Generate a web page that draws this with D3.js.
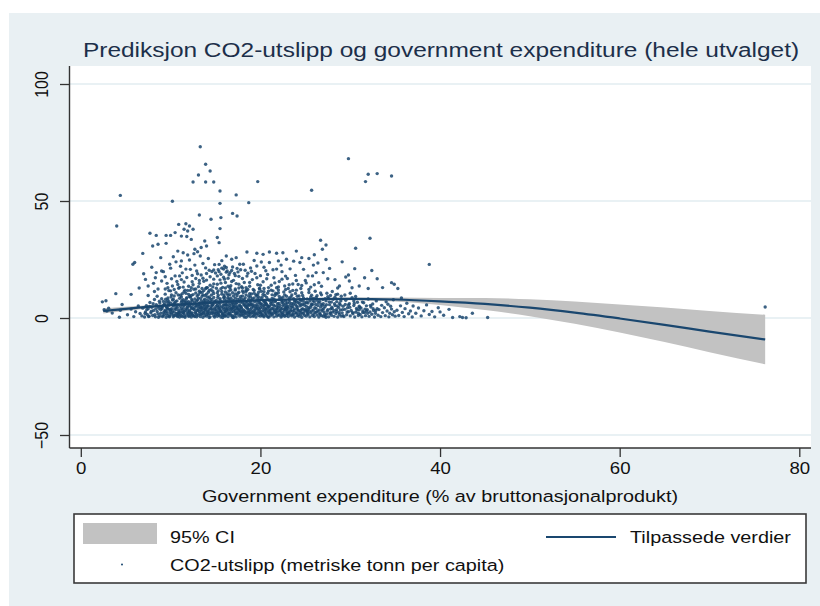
<!DOCTYPE html>
<html>
<head>
<meta charset="utf-8">
<script src="https://cdn.jsdelivr.net/npm/d3@7"></script>
<style>
  html, body { margin: 0; padding: 0; background: #ffffff; }
  svg { display: block; }
</style>
</head>
<body>
<svg id="chart" width="820" height="606"></svg>
<script>
// ---- Text ----
const chartTitle = "Prediksjon CO2-utslipp og government expenditure (hele utvalget)";
const xAxisTitle = "Government expenditure (% av bruttonasjonalprodukt)";
const legendLabels = ["95% CI", "Tilpassede verdier", "CO2-utslipp (metriske tonn per capita)"];

// ---- Axis ticks ----
const xTicks = [0, 20, 40, 60, 80];
const yTicks = [-50, 0, 50, 100];

// ---- Quadratic prediction with 95% confidence band ----
const fitX   = [2.5, 5, 10, 15, 20, 25, 30, 35, 40, 45, 50, 55, 60, 65, 70, 76.2];
const fitY   = [3.0, 3.9, 5.5, 6.7, 7.6, 8.1, 8.2, 7.9, 7.1, 6.0, 4.4, 2.3, -0.2, -2.9, -5.8, -9.2];
const ciLow  = [1.9, 3.0, 4.9, 6.25, 7.2, 7.65, 7.6, 7.0, 5.6, 3.4, 0.8, -2.5, -6.2, -10.3, -14.6, -19.8];
const ciHigh = [4.1, 4.8, 6.1, 7.15, 8.0, 8.55, 8.8, 8.8, 8.6, 8.6, 8.0, 7.1, 5.8, 4.5, 3.0, 1.4];

// ---- Observations: [government expenditure %, CO2 t per capita] ----
const obsCore = [
[2.4,6.9],[2.8,7.4],[2.6,3.5],[2.9,3.0],[3.1,4.2],[3.5,2.1],[3.9,10.4],[4.3,0.3],[4.6,5.8],[4.4,3.3],[5.6,10.1],
[5.2,1.4],[5.6,3.8],[5.9,0.6],[6.1,2.7],[6.4,5.1],[6.6,1.9],[6.8,0.9],[6.9,4.2],
[7.1,0.4],[7.2,2.6],[7.3,5.3],[7.4,1.5],[7.5,3.9],[7.6,0.8],[7.7,6.6],[7.8,2.2],[7.9,4.6],[8.0,1.1],[8.1,3.2],[8.2,7.9],[8.3,0.5],[8.4,5.7],[8.5,2.8],[8.5,9.3],[8.6,1.7],[8.7,4.1],[8.8,0.9],[8.8,6.4],[8.9,3.5],[8.9,2.0],[9.0,8.2],[7.5,9.6],[8.2,11.3],
[9.1,0.6],[9.1,4.8],[9.2,2.3],[9.2,7.1],[9.3,1.4],[9.3,5.9],[9.4,3.3],[9.4,10.2],[9.5,0.3],[9.5,6.8],[9.6,2.7],[9.6,4.4],[9.7,1.1],[9.7,8.6],[9.8,3.8],[9.8,5.4],[9.9,0.8],[9.9,2.1],[10.0,6.3],[10.0,11.6],[10.1,1.6],[10.1,4.0],[10.2,3.0],[10.2,7.7],[10.3,0.5],[10.3,5.1],[10.4,2.5],[10.4,9.4],[10.5,1.2],[10.5,6.0],[10.6,3.6],[10.6,4.7],[10.7,0.9],[10.7,7.3],[10.8,2.0],[10.8,5.6],[10.9,1.5],[10.9,3.2],[11.0,8.4],[11.0,0.4],[9.4,12.4],[10.1,9.9],[10.6,10.8],[9.8,6.9],[10.3,8.0],
[11.1,2.6],[11.1,5.0],[11.2,1.0],[11.2,6.7],[11.2,9.0],[11.3,3.4],[11.3,0.6],[11.4,4.3],[11.4,7.8],[11.5,1.8],[11.5,2.9],[11.5,11.2],[11.6,5.6],[11.6,0.3],[11.7,3.9],[11.7,6.2],[11.8,1.3],[11.8,8.7],[11.9,2.4],[11.9,4.9],[12.0,0.7],[12.0,7.0],[12.0,10.1],[12.1,3.1],[12.1,5.3],[12.2,1.6],[12.2,6.5],[12.3,0.4],[12.3,4.0],[12.3,9.6],[12.4,2.2],[12.4,7.4],[12.5,1.1],[12.5,5.8],[12.6,3.6],[12.6,0.9],[12.6,12.3],[12.7,4.6],[12.7,8.1],[12.8,2.0],[12.8,6.0],[12.9,0.5],[12.9,3.3],[13.0,5.1],[13.0,7.7],[11.3,10.4],[11.9,11.8],[12.2,8.9],[12.8,10.7],[11.6,7.3],[12.4,4.4],[11.4,2.1],[12.9,1.4],[11.8,6.9],[12.1,9.2],
[13.1,1.2],[13.1,4.1],[13.1,8.5],[13.2,2.8],[13.2,6.3],[13.3,0.6],[13.3,5.0],[13.3,10.9],[13.4,3.5],[13.4,7.2],[13.5,1.7],[13.5,4.7],[13.5,9.3],[13.6,0.3],[13.6,6.0],[13.7,2.4],[13.7,3.9],[13.7,11.7],[13.8,1.0],[13.8,5.5],[13.8,8.0],[13.9,3.0],[13.9,6.8],[14.0,0.8],[14.0,4.4],[14.0,10.2],[14.1,2.1],[14.1,7.6],[14.2,1.4],[14.2,5.2],[14.3,3.7],[14.3,9.0],[14.4,0.5],[14.4,6.5],[14.5,2.6],[14.5,4.8],[14.5,12.1],[14.6,1.9],[14.6,7.9],[14.7,3.2],[14.7,5.8],[14.8,0.9],[14.8,8.8],[14.9,4.2],[14.9,2.3],[15.0,6.9],[15.0,1.3],[13.2,11.4],[13.6,9.9],[14.2,11.0],[14.8,10.5],[13.9,12.6],[14.4,8.3],[13.4,1.5],[14.6,3.9],[13.8,6.6],[14.1,4.9],[14.9,7.2],[13.5,2.9],[14.3,0.2],
[15.1,3.4],[15.1,7.5],[15.2,0.7],[15.2,5.3],[15.3,2.2],[15.3,9.7],[15.4,4.0],[15.4,1.1],[15.5,6.2],[15.5,8.3],[15.6,2.9],[15.6,0.4],[15.7,4.8],[15.7,11.3],[15.8,1.8],[15.8,6.9],[15.9,3.6],[15.9,5.7],[16.0,0.9],[16.0,9.0],[16.1,2.5],[16.1,4.3],[16.2,7.3],[16.2,1.4],[16.3,5.1],[16.3,10.4],[16.4,3.0],[16.4,0.6],[16.5,6.4],[16.5,8.1],[16.6,2.0],[16.6,4.6],[16.7,1.2],[16.7,12.0],[16.8,3.8],[16.8,5.9],[16.9,0.3],[16.9,7.7],[17.0,2.7],[17.0,9.4],[15.2,10.8],[15.6,12.5],[16.1,11.1],[16.6,10.0],[15.9,8.8],[16.4,9.6],[15.4,6.7],[16.2,3.3],[15.7,2.3],[16.8,4.2],[15.3,4.5],[16.0,5.5],[16.5,1.7],[15.8,0.2],[16.9,6.6],[15.1,1.9],[16.3,7.0],[15.5,3.9],[16.7,8.6],[16.1,0.8],
[17.1,1.0],[17.1,5.0],[17.2,3.1],[17.2,8.5],[17.3,0.5],[17.3,6.1],[17.4,2.3],[17.4,4.4],[17.5,10.6],[17.5,1.6],[17.6,7.1],[17.6,3.7],[17.7,0.8],[17.7,5.6],[17.8,2.8],[17.8,9.2],[17.9,4.1],[17.9,1.3],[18.0,6.6],[18.0,11.5],[18.1,2.0],[18.1,3.4],[18.2,0.4],[18.2,7.8],[18.3,5.2],[18.3,1.7],[18.4,4.6],[18.4,9.9],[18.5,2.6],[18.5,6.3],[18.6,0.9],[18.6,3.9],[18.7,8.0],[18.7,1.4],[18.8,5.4],[18.8,2.2],[18.9,7.0],[18.9,0.6],[19.0,4.3],[19.0,10.3],[17.2,11.9],[17.6,12.8],[18.1,10.9],[18.6,12.2],[17.4,9.5],[18.3,8.7],[17.8,6.8],[18.9,9.1],[17.1,7.4],[18.5,4.9],[17.9,2.5],[18.2,5.8],[17.5,4.0],[18.7,3.0],[17.3,1.9],[18.4,0.3],[17.7,8.2],[18.8,6.1],[17.0,0.2],[18.0,3.0],
[19.1,2.4],[19.1,6.0],[19.2,0.7],[19.2,4.7],[19.3,8.6],[19.3,3.2],[19.4,1.5],[19.4,5.5],[19.5,9.8],[19.5,0.4],[19.6,3.9],[19.6,7.2],[19.7,2.0],[19.7,5.0],[19.8,1.1],[19.8,11.0],[19.9,6.6],[19.9,3.5],[20.0,0.8],[20.0,4.4],[20.1,8.1],[20.1,2.7],[20.2,1.6],[20.2,5.9],[20.3,3.3],[20.3,10.1],[20.4,0.5],[20.4,7.0],[20.5,4.1],[20.5,2.1],[20.6,6.3],[20.6,1.2],[20.7,3.0],[20.7,8.8],[20.8,5.3],[20.8,0.6],[20.9,2.5],[20.9,4.8],[21.0,7.6],[21.0,1.8],[19.3,11.8],[19.9,12.4],[20.4,11.2],[20.8,10.6],[19.6,9.4],[20.2,9.0],[19.0,7.7],[20.6,3.8],[19.4,2.8],[20.0,6.2],[19.8,4.2],[20.5,5.6],[19.2,1.0],[20.9,0.3],[19.7,8.3],
[21.1,3.4],[21.1,0.9],[21.2,5.7],[21.2,2.2],[21.3,8.4],[21.3,1.4],[21.4,4.3],[21.4,6.8],[21.5,0.5],[21.5,3.0],[21.6,9.6],[21.6,5.1],[21.7,1.9],[21.7,7.5],[21.8,3.8],[21.8,0.8],[21.9,6.1],[21.9,2.6],[22.0,4.7],[22.0,10.8],[22.1,1.2],[22.1,7.9],[22.2,3.3],[22.2,5.4],[22.3,0.4],[22.3,2.0],[22.4,6.6],[22.4,4.0],[22.5,8.9],[22.5,1.6],[22.6,3.6],[22.6,5.9],[22.7,0.7],[22.7,2.9],[22.8,7.2],[22.8,4.5],[22.9,1.1],[22.9,9.3],[23.0,3.1],[23.0,6.4],[21.4,11.6],[22.0,12.0],[22.6,11.1],[21.8,10.2],[22.3,8.5],[21.2,7.0],[22.9,5.0],[21.6,2.4],[22.4,0.9],[21.0,4.9],
[23.1,0.6],[23.1,4.2],[23.2,2.4],[23.2,7.7],[23.3,5.4],[23.3,1.3],[23.4,3.5],[23.4,9.0],[23.5,0.9],[23.5,6.2],[23.6,2.8],[23.6,4.8],[23.7,1.6],[23.7,8.2],[23.8,3.9],[23.8,0.4],[23.9,5.8],[23.9,10.5],[24.0,2.1],[24.0,7.0],[24.1,4.4],[24.1,1.0],[24.2,3.2],[24.2,6.6],[24.3,0.7],[24.3,9.4],[24.4,2.5],[24.4,5.1],[24.5,1.4],[24.5,7.4],[24.6,3.7],[24.6,0.3],[24.7,6.0],[24.7,4.0],[24.8,2.0],[24.8,8.6],[24.9,1.2],[24.9,5.5],[25.0,3.0],[23.3,11.2],[24.0,11.9],[24.6,10.8],[23.8,6.9],[24.4,8.0],[23.0,1.9],
[25.1,0.8],[25.1,5.0],[25.2,2.7],[25.2,8.1],[25.3,1.5],[25.3,6.4],[25.4,3.9],[25.5,0.5],[25.5,7.3],[25.6,2.2],[25.6,4.6],[25.7,9.7],[25.8,1.1],[25.8,5.8],[25.9,3.4],[26.0,0.6],[26.0,6.9],[26.1,2.4],[26.2,4.1],[26.2,8.8],[26.3,1.3],[26.4,5.3],[26.4,3.0],[26.5,0.4],[26.6,7.1],[26.6,2.0],[26.7,4.7],[26.8,1.0],[26.8,9.9],[26.9,3.6],[27.0,6.1],[27.0,0.7],[25.4,10.9],[26.1,11.4],[26.7,10.7],[25.9,8.4],[26.3,7.6],[25.7,6.0],[26.9,5.4],[25.2,3.3],
[27.1,2.6],[27.2,4.9],[27.2,0.9],[27.3,7.4],[27.4,1.7],[27.5,3.5],[27.5,9.1],[27.6,0.5],[27.7,5.7],[27.8,2.3],[27.9,6.8],[27.9,1.2],[28.0,4.0],[28.1,8.0],[28.2,0.7],[28.2,3.1],[28.3,5.3],[28.4,1.9],[28.5,7.0],[28.5,2.8],[28.6,0.4],[28.7,4.5],[28.8,6.2],[28.8,1.5],[28.9,3.4],[29.0,9.3],[29.0,0.8],[27.4,10.6],[28.0,11.3],[28.6,10.2],[27.6,8.4],[28.3,8.9],[27.8,3.8],[28.9,5.6],[27.3,0.3],
[29.1,2.2],[29.2,5.0],[29.3,0.6],[29.4,3.7],[29.5,7.6],[29.6,1.4],[29.7,4.4],[29.8,2.7],[29.9,6.1],[30.0,0.9],[30.1,3.2],[30.2,8.7],[30.3,1.8],[30.4,5.3],[30.5,0.4],[30.6,2.5],[30.7,4.1],[30.8,6.7],[30.9,1.1],[31.0,3.5],[29.4,9.8],[30.0,10.6],[30.6,9.2],[29.8,5.6],[30.4,7.3],[29.2,1.0],[30.9,2.0],[31.0,5.0],
[31.1,1.5],[31.2,4.3],[31.3,0.5],[31.4,3.0],[31.5,6.5],[31.6,2.3],[31.7,1.0],[31.8,5.2],[31.9,3.5],[32.0,8.1],[32.1,0.7],[32.2,2.6],[32.3,4.7],[32.4,1.6],[32.5,6.0],[32.6,3.2],[32.7,0.4],[32.8,2.0],[32.9,7.3],[33.0,4.0],[31.4,2.3],[31.8,3.0],
[33.1,1.2],[33.2,3.6],[33.4,0.6],[33.5,5.4],[33.6,2.3],[33.8,4.4],[33.9,1.0],[34.0,6.9],[34.1,3.0],[34.3,0.5],[34.4,2.0],[34.5,5.0],[34.6,3.8],[34.7,1.4],[34.8,7.8],[34.9,2.7],[35.0,0.8],[34.2,5.9],
[35.2,3.3],[35.4,1.1],[35.6,5.2],[35.8,2.4],[36.0,0.6],[36.1,4.0],[36.3,6.3],[36.5,1.8],[36.7,3.0],[36.9,0.4],[37.0,5.1],[35.7,8.6],
[37.3,2.0],[37.6,4.3],[37.9,0.9],[38.2,3.1],[38.5,5.6],[38.8,1.5],[39.1,2.8],[39.4,0.5],[39.8,4.4],[40.0,2.6],
[40.4,1.2],[41.0,3.7],[41.4,0.2],[42.2,0.6],[42.5,0.2],[42.9,0.1],[43.6,2.0],[45.3,0.2],[76.2,4.7]
];

const obsCoreDense = [
[7.15,1.9],[7.35,3.6],[7.55,0.6],[7.65,4.9],[7.85,2.9],[8.05,6.1],[8.25,1.4],[8.35,3.9],[8.55,5.0],[8.65,0.3],[8.75,7.2],[8.95,4.6],
[9.05,3.9],[9.15,1.0],[9.25,5.6],[9.35,2.8],[9.45,8.0],[9.55,1.8],[9.65,4.0],[9.75,6.1],[9.85,0.5],[9.95,3.1],[10.05,9.0],[10.15,2.2],[10.25,5.7],[10.35,1.1],[10.45,3.8],[10.55,7.0],[10.65,1.9],[10.75,4.4],[10.85,9.8],[10.95,2.6],[9.5,4.9],[10.0,3.5],[10.4,6.4],[9.7,7.6],[10.8,0.6],
[11.05,1.6],[11.15,4.0],[11.25,7.4],[11.35,2.4],[11.45,5.3],[11.55,0.8],[11.65,3.1],[11.75,8.2],[11.85,4.4],[11.95,1.9],[12.05,6.0],[12.15,2.7],[12.25,4.8],[12.35,7.9],[12.45,1.3],[12.55,3.9],[12.65,6.8],[12.75,2.5],[12.85,5.2],[12.95,9.4],[11.1,9.7],[11.5,6.6],[11.9,3.5],[12.3,2.0],[12.7,0.6],[11.7,10.6],[12.5,10.0],[11.3,5.8],[12.1,0.9],[12.9,7.3],
[13.05,3.2],[13.15,5.8],[13.25,1.9],[13.35,8.3],[13.45,4.2],[13.55,6.5],[13.65,2.0],[13.75,4.9],[13.85,9.6],[13.95,1.6],[14.05,5.9],[14.15,3.0],[14.25,7.0],[14.35,1.8],[14.45,4.0],[14.55,9.8],[14.65,5.3],[14.75,2.1],[14.85,6.4],[14.95,3.5],[13.3,4.4],[13.7,7.5],[14.1,8.9],[14.5,7.1],[14.9,0.4],[13.1,10.0],[13.5,11.0],[14.3,11.8],[14.7,11.4],[13.9,4.0],[14.2,2.7],[13.4,6.0],[14.6,6.0],[13.8,3.6],[14.0,12.9],
[15.05,4.9],[15.15,2.6],[15.25,8.8],[15.35,1.5],[15.45,5.0],[15.55,3.1],[15.65,7.0],[15.75,1.2],[15.85,4.4],[15.95,9.9],[16.05,2.8],[16.15,6.0],[16.25,3.9],[16.35,8.5],[16.45,1.9],[16.55,5.4],[16.65,3.4],[16.75,6.9],[16.85,1.0],[16.95,4.8],[15.3,11.6],[15.7,10.2],[16.1,12.8],[16.5,11.5],[16.9,10.8],[15.5,7.6],[16.0,7.9],[16.4,4.0],[15.2,6.1],[16.8,2.7],[15.9,1.5],[16.6,7.5],[15.4,2.9],[16.2,5.7],[17.0,4.5],
[17.05,3.6],[17.15,6.4],[17.25,2.0],[17.35,4.9],[17.45,7.9],[17.55,2.9],[17.65,5.2],[17.75,1.7],[17.85,4.6],[17.95,8.0],[18.05,1.2],[18.15,5.6],[18.25,3.0],[18.35,6.9],[18.45,2.0],[18.55,4.2],[18.65,7.3],[18.75,2.5],[18.85,3.6],[18.95,5.8],[17.2,10.3],[17.6,11.0],[18.0,9.4],[18.4,11.3],[18.8,10.4],[17.4,6.6],[17.8,4.9],[18.2,2.7],[18.6,5.5],[17.0,5.8],[18.9,1.8],[17.3,3.9],[18.1,7.2],[18.7,9.3],[17.7,3.2],
[19.05,3.0],[19.15,5.3],[19.25,2.0],[19.35,7.0],[19.45,4.1],[19.55,1.8],[19.65,6.0],[19.75,3.1],[19.85,8.9],[19.95,2.4],[20.05,5.4],[20.15,1.3],[20.25,4.5],[20.35,7.6],[20.45,2.9],[20.55,6.7],[20.65,1.7],[20.75,4.3],[20.85,7.8],[20.95,3.6],[19.3,10.6],[19.7,10.0],[20.1,11.4],[20.5,9.6],[20.9,11.5],[19.5,4.8],[20.0,2.1],[20.4,5.2],[19.1,8.2],[20.7,5.8],[19.8,7.4],[20.3,0.9],
[21.05,2.7],[21.15,6.3],[21.25,4.0],[21.35,1.8],[21.45,5.6],[21.55,3.6],[21.65,7.0],[21.75,2.8],[21.85,4.9],[21.95,1.4],[22.05,6.2],[22.15,3.0],[22.25,4.3],[22.35,7.6],[22.45,2.4],[22.55,5.2],[22.65,1.3],[22.75,4.0],[22.85,6.0],[22.95,2.1],[21.3,9.9],[21.7,10.6],[22.1,9.2],[22.7,9.9],[21.5,8.1],[22.5,6.9],[21.9,3.9],[22.9,3.7],
[23.05,4.8],[23.15,2.0],[23.25,6.6],[23.35,3.0],[23.45,4.6],[23.55,1.5],[23.65,5.9],[23.75,3.2],[23.85,7.6],[23.95,2.3],[24.05,5.0],[24.15,3.6],[24.25,1.6],[24.35,6.2],[24.45,3.1],[24.55,5.5],[24.65,2.2],[24.75,7.5],[24.85,3.4],[24.95,6.5],[23.5,9.8],[24.1,9.3],[24.7,9.6],[23.2,8.6],
[25.05,3.8],[25.15,6.6],[25.25,1.9],[25.35,4.5],[25.45,2.9],[25.65,5.4],[25.75,3.0],[25.85,7.5],[25.95,1.7],[26.05,4.4],[26.15,5.8],[26.25,2.6],[26.45,6.5],[26.55,3.4],[26.65,1.5],[26.75,5.9],[26.85,3.0],[26.95,7.9],[25.6,8.9],[26.3,9.5],
[27.05,4.1],[27.15,1.6],[27.35,5.7],[27.45,3.0],[27.65,6.9],[27.75,1.9],[27.95,4.6],[28.05,2.5],[28.25,6.1],[28.45,3.6],[28.55,5.1],[28.75,2.3],[28.95,7.3],[27.8,9.6],[28.4,10.0],[27.2,8.2],
[29.15,3.6],[29.45,5.8],[29.65,2.6],[29.95,4.6],[30.25,2.4],[30.45,6.2],[30.75,3.4],[31.05,4.6],[31.35,6.8],[31.65,3.8],[31.95,2.0],[32.25,5.4],[32.55,4.0],[32.85,3.2]
];

const obsUpper = [
[6.0,23.7],[5.8,23.0],[6.9,27.6],[7.5,13.7],[8.1,14.8],[8.4,19.4],[9.0,20.1],[8.9,25.8],[7.2,16.5],[6.5,12.8],[7.9,21.7],[8.6,12.4],[7.0,18.9],[8.3,17.2],
[9.0,15.8],[9.6,14.8],[10.2,13.7],[10.5,18.0],[11.0,18.0],[11.8,17.3],[9.9,23.0],[11.2,24.4],[9.4,17.6],[10.0,21.3],[10.7,15.6],[11.4,13.2],[11.7,20.9],[10.3,26.2],[9.7,12.9],[11.1,22.1],[10.9,12.7],[11.5,15.4],[9.2,19.8],[10.6,24.0],[11.9,26.9],[10.1,16.8],[11.3,19.3],
[12.2,20.8],[12.9,20.1],[13.3,26.5],[14.2,25.4],[12.1,24.8],[12.5,14.2],[12.8,16.9],[13.1,13.4],[13.4,18.4],[13.7,15.7],[13.9,21.4],[14.1,13.0],[14.4,17.6],[14.6,19.9],[14.8,14.6],[12.4,18.2],[12.7,22.6],[13.0,28.3],[13.6,23.3],[14.0,16.2],[14.3,20.4],[14.9,22.8],[12.3,12.9],[13.5,12.6],[14.7,13.3],[13.2,16.0],[12.6,27.5],
[15.0,19.2],[15.3,20.6],[15.6,18.7],[15.9,20.9],[16.2,19.6],[16.5,18.5],[16.8,20.3],[17.1,19.0],[17.4,21.2],[15.2,14.4],[15.5,16.3],[15.8,13.1],[16.1,15.2],[16.4,17.0],[16.7,13.8],[17.0,16.1],[17.3,14.7],[17.6,17.8],[15.4,22.9],[15.7,24.5],[16.0,22.1],[16.2,26.5],[16.8,25.1],[17.3,25.8],[17.7,23.0],[15.1,12.7],[16.6,12.9],[17.9,13.4],[15.9,17.4],[16.9,21.8],[17.5,19.7],[15.7,21.3],[16.3,20.1],[17.2,18.1],
[18.1,23.0],[18.5,28.2],[19.6,27.7],[19.6,22.2],[20.3,27.2],[18.2,15.2],[18.5,17.9],[18.8,13.6],[19.1,16.4],[19.4,19.0],[19.7,14.2],[20.0,18.1],[20.3,15.5],[20.6,20.2],[20.9,13.0],[18.3,20.4],[18.9,21.4],[19.3,24.6],[20.1,23.9],[20.7,16.8],[18.0,12.8],[19.9,12.7],[18.6,19.1],[20.4,21.7],
[21.0,28.2],[21.0,23.7],[21.8,27.7],[22.0,24.4],[22.5,27.9],[22.9,25.1],[21.2,14.0],[21.5,17.2],[21.8,12.9],[22.1,15.6],[22.4,19.8],[22.7,13.7],[23.0,16.9],[23.3,21.0],[23.6,14.5],[23.9,18.2],[21.4,20.6],[22.3,22.6],[23.1,12.6],[23.7,24.3],[22.8,17.9],
[24.4,23.7],[24.6,25.8],[25.4,25.4],[25.0,16.0],[24.2,14.3],[25.3,18.0],[25.8,18.0],[26.2,19.4],[27.0,19.4],[24.8,20.8],[25.6,13.2],[26.5,15.1],[27.3,25.0],[24.0,28.6],[25.9,22.6],[26.8,13.6],[27.5,16.8],[24.5,12.6],[26.0,27.0],[27.7,21.2],[25.1,15.0],[26.4,23.5],
[28.8,13.7],[29.8,18.4],[29.5,17.5],[29.9,15.8],[31.0,13.7],[32.0,12.6],[33.6,13.0],[34.6,15.1],[34.9,14.4],[35.3,12.6],[28.3,16.4],[30.5,21.1],[29.1,24.0],[31.6,17.2],[28.6,12.8],[30.2,12.9],[33.0,16.8],[32.4,20.3],[38.8,22.9],
[10.4,12.2],[10.8,14.3],[11.2,16.4],[11.6,11.9],[12.0,13.6],[12.4,15.5],[12.8,12.4],[13.2,14.8],[13.6,17.0],[14.0,19.0],[14.4,14.0],[14.8,16.6],[15.2,18.0],[15.6,14.9],[16.0,16.6],[16.4,13.6],[16.8,15.6],[17.2,12.4],[17.6,14.4],[18.0,16.9],[18.4,13.0],[18.8,15.2],[19.2,12.2],[19.6,17.2],[20.0,14.0],[20.4,12.6],[20.8,18.6],[21.2,11.9],[21.6,15.0],[22.0,13.3],[22.4,16.6],[22.8,12.2],[23.2,14.2],[23.6,11.8],[24.0,16.0],[15.4,19.8],[16.6,19.4],[17.8,20.6],[14.8,20.5],[13.0,18.9],[19.0,20.0],[16.2,21.6],[12.2,11.8],[11.0,13.1],[9.8,11.7],[24.6,13.9],[25.4,12.2],[26.0,14.2],[21.8,20.9],[18.4,11.8]
];

const obsHigh = [
[10.9,40.0],[11.7,40.3],[12.1,39.3],[11.5,37.9],[11.9,37.2],[12.5,37.9],[10.5,36.5],[11.2,35.0],[11.8,34.8],[12.3,33.6],
[7.7,36.2],[8.4,35.3],[9.5,35.3],[10.0,35.3],[13.8,32.9],[14.0,30.8],[15.2,34.4],[15.4,32.2],[8.0,30.8],[8.6,31.5],[9.5,31.9],
[10.8,28.6],[11.4,27.9],[12.7,29.4],[13.4,30.1],[15.5,38.2],[16.9,44.7],[17.4,43.6],[13.2,44.0],[14.5,42.2],[15.6,42.9],[4.0,39.3],
[26.7,33.2],[27.3,31.2],[26.9,29.4],[30.6,29.8],[32.2,34.1],
[13.3,73.2],[13.9,65.7],[14.4,62.8],[13.1,61.1],[12.5,58.1],[13.9,58.1],[14.8,58.1],[19.7,58.3],[15.5,54.3],[17.3,52.6],[4.4,52.4],
[10.2,49.9],[15.5,49.0],[18.7,49.3],[29.8,68.1],[32.0,61.4],[33.0,61.7],[34.6,60.7],[31.7,58.3],[25.7,54.6]
];

// ---- Drawing ----
const W = 820, H = 606;
const SX = 1.165;                       // horizontal glyph stretch used for all text
const FONT = "'Liberation Sans', Arial, Helvetica, sans-serif";
const NAVY = "#1a476f";
const plot = { left: 69.5, right: 811, top: 66, bottom: 448 };

const svg = d3.select("#chart");
const x = d3.scaleLinear().domain([0, 80]).range([80.8, 799.3]);
const y = d3.scaleLinear().domain([-50, 100]).range([435, 84]);

// graph region and plot region
svg.append("rect").attr("x", 9).attr("y", 13).attr("width", W - 9).attr("height", H - 13).attr("fill", "#e9f0f3");
svg.append("rect").attr("x", plot.left).attr("y", plot.top)
  .attr("width", plot.right - plot.left).attr("height", plot.bottom - plot.top).attr("fill", "#ffffff");

// horizontal grid lines at y labels
svg.append("g").selectAll("line").data(yTicks).join("line")
  .attr("x1", plot.left).attr("x2", plot.right)
  .attr("y1", d => y(d)).attr("y2", d => y(d))
  .attr("stroke", "#e2ecf0").attr("stroke-width", 1.3);

// confidence band and fitted curve
const fitRows = fitX.map((v, i) => ({ x: v, fit: fitY[i], lo: ciLow[i], hi: ciHigh[i] }));
svg.append("path").datum(fitRows)
  .attr("d", d3.area().x(d => x(d.x)).y0(d => y(d.lo)).y1(d => y(d.hi)).curve(d3.curveMonotoneX))
  .attr("fill", "#c2c2c2");
svg.append("path").datum(fitRows)
  .attr("d", d3.line().x(d => x(d.x)).y(d => y(d.fit)).curve(d3.curveMonotoneX))
  .attr("fill", "none").attr("stroke", NAVY).attr("stroke-width", 2.2);

// scatter of observations
const allObs = obsCore.concat(obsCoreDense, obsUpper, obsHigh);
svg.append("g").selectAll("circle").data(allObs).join("circle")
  .attr("cx", d => x(d[0])).attr("cy", d => y(d[1])).attr("r", 1.7)
  .attr("fill", NAVY).attr("fill-opacity", 0.85);

// axes
const xAxis = svg.append("g").attr("transform", `translate(0,${plot.bottom})`)
  .call(d3.axisBottom(x).tickValues(xTicks).tickSize(9).tickPadding(4).tickFormat(d3.format("d")));
xAxis.select(".domain").remove();
xAxis.selectAll(".tick line").attr("stroke", "#333").attr("stroke-width", 1.3);
xAxis.selectAll(".tick text")
  .attr("y", 26).attr("dy", 0)
  .attr("transform", `scale(${SX},1)`)
  .attr("font-family", FONT).attr("font-size", 16).attr("fill", "#111");

const yAxis = svg.append("g").attr("transform", `translate(${plot.left},0)`)
  .call(d3.axisLeft(y).tickValues(yTicks).tickSize(9.5).tickFormat(d3.format("d")));
yAxis.select(".domain").remove();
yAxis.selectAll(".tick line").attr("stroke", "#333").attr("stroke-width", 1.3);
yAxis.selectAll(".tick text")
  .attr("x", 0).attr("y", 0).attr("dy", 0)
  .attr("text-anchor", "middle")
  .attr("transform", `translate(${47.5 - plot.left},0) scale(${SX},1) rotate(-90)`)
  .attr("font-family", FONT).attr("font-size", 16).attr("fill", "#111");

svg.append("line").attr("x1", plot.left).attr("x2", plot.right)
  .attr("y1", plot.bottom).attr("y2", plot.bottom).attr("stroke", "#333").attr("stroke-width", 1.4);
svg.append("line").attr("x1", plot.left).attr("x2", plot.left)
  .attr("y1", plot.top).attr("y2", plot.bottom).attr("stroke", "#333").attr("stroke-width", 1.4);

// stretched text helper
function label(px, py, txt, size, anchor, color) {
  return svg.append("text")
    .attr("transform", `translate(${px},${py}) scale(${SX},1)`)
    .attr("text-anchor", anchor).attr("font-family", FONT)
    .attr("font-size", size).attr("fill", color).text(txt);
}

label(441, 57, chartTitle, 21, "middle", "#1c2f4a");
label(440, 502, xAxisTitle, 17, "middle", "#111");

// legend
svg.append("rect").attr("x", 74).attr("y", 514).attr("width", 732).attr("height", 69)
  .attr("fill", "#ffffff").attr("stroke", "#3a3a3a").attr("stroke-width", 1.6);
svg.append("rect").attr("x", 83).attr("y", 523).attr("width", 74).attr("height", 21).attr("fill", "#c2c2c2");
label(170, 543, legendLabels[0], 17, "start", "#111");
svg.append("line").attr("x1", 546).attr("x2", 616).attr("y1", 537).attr("y2", 537)
  .attr("stroke", NAVY).attr("stroke-width", 2);
label(630, 543, legendLabels[1], 17, "start", "#111");
svg.append("circle").attr("cx", 122).attr("cy", 564.5).attr("r", 1).attr("fill", NAVY);
label(170, 571, legendLabels[2], 17, "start", "#111");
</script>
</body>
</html>
